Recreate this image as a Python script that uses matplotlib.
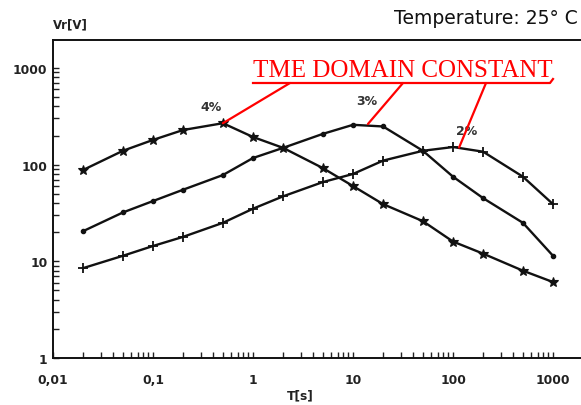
import matplotlib
matplotlib.use("Agg")
import matplotlib.pyplot as plt
from matplotlib.lines import Line2D
from matplotlib.ticker import LogLocator, FixedLocator, NullFormatter

# ---- data ----
t_s = [0.02, 0.05, 0.1, 0.2, 0.5, 1, 2, 5, 10, 20, 50, 100, 200, 500, 1000]
vr_4pct = [88, 139, 180, 228, 268, 193, 149, 92, 60, 39, 26, 16, 12, 8, 6.1]
vr_3pct = [20.5, 32, 42, 55, 78, 117, 149, 208, 258, 248, 139, 75, 45, 25, 11.4]
vr_2pct = [8.5, 11.4, 14.4, 17.9, 25, 35, 47, 66, 80, 110, 139, 152, 136, 75, 39]
x_ticks = [0.01, 0.1, 1, 10, 100, 1000]
x_ticklabels = ["0,01", "0,1", "1", "10", "100", "1000"]
y_ticks = [1, 10, 100, 1000]
y_ticklabels = ["1", "10", "100", "1000"]

W, H = 581, 406
fig = plt.figure(figsize=(W / 100, H / 100), dpi=100)
ax = fig.add_axes([53 / W, 1 - 359 / H, 1 - 53 / W, (359 - 41) / H])
ax.set_xscale("log")
ax.set_yscale("log")
ax.set_xlim(0.01, 1905)
ax.set_ylim(1, 1944)

lc = "#111111"
ax.plot(t_s, vr_4pct, color=lc, lw=1.7, marker="*", ms=7.5, mew=0.8)
ax.plot(t_s, vr_3pct, color=lc, lw=1.7, marker="o", ms=3)
ax.plot(t_s, vr_2pct, color=lc, lw=1.7, marker="+", ms=7, mew=1.3)

ax.spines["right"].set_visible(False)
for s in ["left", "bottom", "top"]:
    ax.spines[s].set_linewidth(1.4)
    ax.spines[s].set_color("#111111")

ax.xaxis.set_major_locator(FixedLocator(x_ticks))
ax.set_xticklabels(x_ticklabels)
ax.yaxis.set_major_locator(FixedLocator(y_ticks))
ax.set_yticklabels(y_ticklabels)
ax.xaxis.set_minor_locator(LogLocator(base=10, subs=range(2, 10)))
ax.yaxis.set_minor_locator(LogLocator(base=10, subs=range(2, 10)))
ax.xaxis.set_minor_formatter(NullFormatter())
ax.yaxis.set_minor_formatter(NullFormatter())
ax.tick_params(which="both", direction="in", top=False, right=False, color="#222222")
ax.tick_params(which="major", length=4, width=1)
ax.tick_params(which="minor", length=4, width=1)
ax.tick_params(axis="x", pad=11)
ax.tick_params(axis="y", pad=4)
for lab in ax.get_xticklabels() + ax.get_yticklabels():
    lab.set_fontfamily("DejaVu Sans")
    lab.set_fontweight("bold")
    lab.set_fontsize(8.8)
    lab.set_color("#222222")

# axis texts
fig.text(53 / W, 1 - 25 / H, "Vr[V]", ha="left", va="center", fontsize=8.5,
         fontweight="bold", color="#222222", family="DejaVu Sans")
fig.text(300 / W, 1 - 396 / H, "T[s]", ha="center", va="center", fontsize=8.8,
         fontweight="bold", color="#222222", family="DejaVu Sans")
fig.text(578 / W, 1 - 18 / H, "Temperature: 25° C", ha="right", va="center",
         fontsize=13.5, color="#111111", family="DejaVu Sans")

# percent labels
ax.text(0.38, 395, "4%", ha="center", va="center", fontsize=9, fontweight="bold",
        color="#333333")
ax.text(13.8, 456, "3%", ha="center", va="center", fontsize=9, fontweight="bold",
        color="#333333")
ax.text(138, 223, "2%", ha="center", va="center", fontsize=9, fontweight="bold",
        color="#333333")

# red annotation
red = "#ff0000"
fig.text(253 / W, 1 - 77 / H, "TME DOMAIN CONSTANT", ha="left", va="baseline",
         fontsize=18, color=red, family="Liberation Serif")
fig.add_artist(Line2D([253 / W, 550 / W, 553 / W], [1 - 84 / H, 1 - 84 / H, 1 - 80 / H],
                      transform=fig.transFigure, color=red, lw=1.6))
ends = [((290, 84), (0.5, 268)), ((403, 84), (14.1, 263)), ((486, 84), (115, 150))]
for (px, py), (dx, dy) in ends:
    ax.annotate("", xy=(dx, dy), xycoords="data",
                xytext=(px / W, 1 - py / H), textcoords="figure fraction",
                arrowprops=dict(arrowstyle="-", color=red, lw=1.6, shrinkA=0, shrinkB=0))

fig.savefig("out.png", dpi=100)
